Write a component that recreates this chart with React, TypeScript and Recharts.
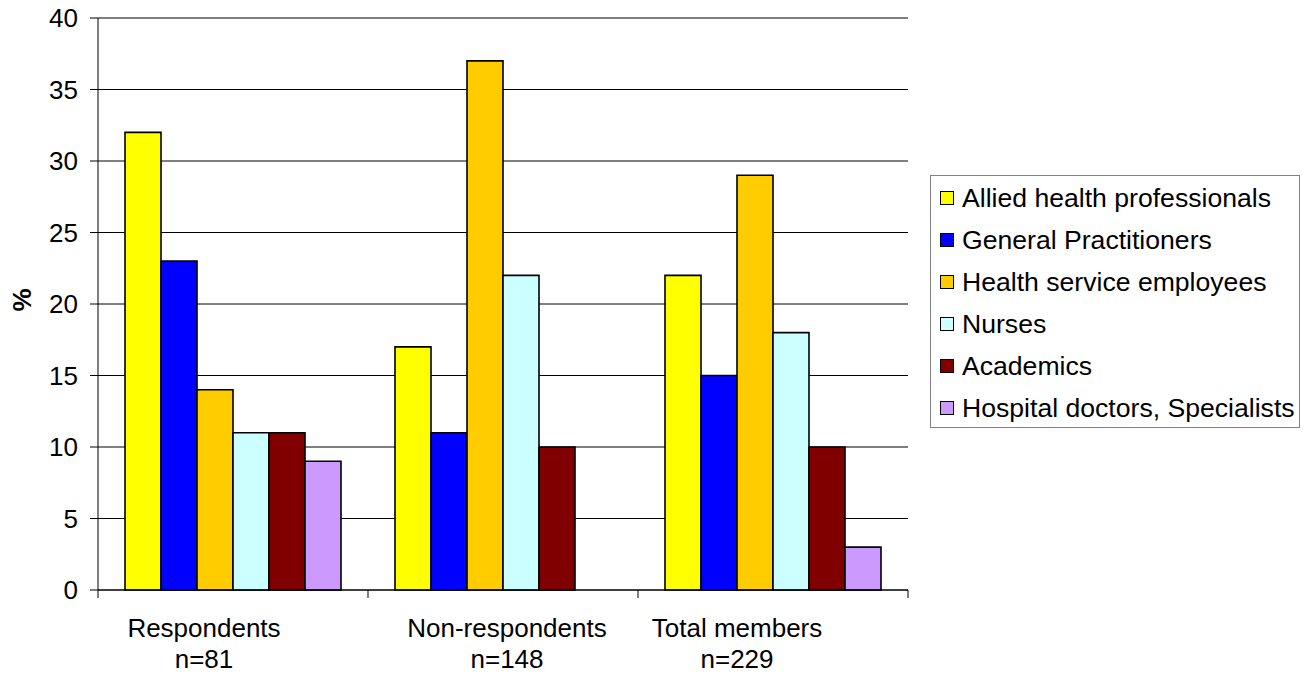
import React from 'react';
import { BarChart, Bar, XAxis, YAxis, CartesianGrid } from 'recharts';

const groups = ['Respondents', 'Non-respondents', 'Total members'];
const sampleSizes = ['n=81', 'n=148', 'n=229'];

const alliedHealth = [32, 17, 22];
const generalPractitioners = [23, 11, 15];
const healthServiceEmployees = [14, 37, 29];
const nurses = [11, 22, 18];
const academics = [11, 10, 10];
const hospitalDoctors = [9, null, 3];

const yTicks = [0, 5, 10, 15, 20, 25, 30, 35, 40];

const series = [
  { key: 'allied', name: 'Allied health professionals', values: alliedHealth, color: '#FFFF00' },
  { key: 'gp', name: 'General Practitioners', values: generalPractitioners, color: '#0000FF' },
  { key: 'hse', name: 'Health service employees', values: healthServiceEmployees, color: '#FFCC00' },
  { key: 'nurses', name: 'Nurses', values: nurses, color: '#CCFFFF' },
  { key: 'academics', name: 'Academics', values: academics, color: '#800000' },
  { key: 'hospital', name: 'Hospital doctors, Specialists', values: hospitalDoctors, color: '#CC99FF' },
];

const chartData = groups.map((group, i) => {
  const row: Record<string, string | number | null> = { group };
  series.forEach((s) => {
    row[s.key] = s.values[i];
  });
  return row;
});

const FONT = '"Liberation Sans", Arial, sans-serif';

// category label in two lines, plus the tick marks on the band edges
function GroupTick({ x, y, width, payload, index, visibleTicksCount }: any) {
  const count = visibleTicksCount || groups.length;
  const band = width ? width / count : (payload.offset || 0) * 2;
  const left = x - band / 2;
  const right = x + band / 2;
  // the original labels sit a little off the band centres
  const labelNudge = [-29, 4, -36];
  const cx = x + (labelNudge[index] || 0);
  return (
    <g>
      <line x1={left} x2={left} y1={y} y2={y + 8} stroke="#000" strokeWidth={1} />
      {index === count - 1 && <line x1={right} x2={right} y1={y} y2={y + 8} stroke="#000" strokeWidth={1} />}
      <text x={cx} y={y + 47} textAnchor="middle" fontSize={26} fill="#000">
        {payload.value}
      </text>
      <text x={cx} y={y + 78} textAnchor="middle" fontSize={26} fill="#000">
        {sampleSizes[index]}
      </text>
    </g>
  );
}

function PercentLabel({ viewBox }: any) {
  const cx = viewBox.x + 14;
  const cy = viewBox.y + viewBox.height / 2 - 4;
  return (
    <text
      x={cx}
      y={cy}
      transform={`rotate(-90, ${cx}, ${cy})`}
      textAnchor="middle"
      dominantBaseline="central"
      fontSize={26}
      fontWeight="bold"
      fill="#000"
    >
      %
    </text>
  );
}

function ChartLegend() {
  return (
    <div
      style={{
        position: 'absolute',
        left: 922,
        top: 175,
        width: 370,
        height: 253,
        boxSizing: 'border-box',
        border: '1px solid #808080',
        padding: '1px 0 0 9px',
        background: '#fff',
      }}
    >
      {series.map((s) => (
        <div key={s.key} style={{ display: 'flex', alignItems: 'center', height: 42 }}>
          <span
            style={{
              width: 12,
              height: 12,
              background: s.color,
              border: '1.5px solid #000',
              marginRight: 8,
              flex: 'none',
            }}
          />
          <span style={{ fontSize: 26.6, lineHeight: '42px', color: '#000', whiteSpace: 'nowrap' }}>{s.name}</span>
        </div>
      ))}
    </div>
  );
}

export default function App() {
  // negative top margin cancels the body margin so the "40" label has room above it
  return (
    <div
      style={{
        position: 'relative',
        width: 1293,
        height: 673,
        marginTop: -8,
        fontFamily: FONT,
        background: '#fff',
      }}
    >
      <BarChart
        width={1293}
        height={673}
        data={chartData}
        margin={{ top: 18, right: 393, bottom: 0, left: 0 }}
        barCategoryGap="10%"
        barGap={0}
      >
        <CartesianGrid vertical={false} stroke="#000" strokeWidth={1} />
        <XAxis
          dataKey="group"
          interval={0}
          height={83}
          tickSize={0}
          tickMargin={0}
          tickLine={false}
          axisLine={{ stroke: '#000', strokeWidth: 1 }}
          tick={<GroupTick />}
        />
        <YAxis
          domain={[0, 40]}
          ticks={yTicks}
          interval={0}
          width={90}
          tickSize={8}
          tickMargin={12}
          axisLine={{ stroke: '#000', strokeWidth: 1 }}
          tickLine={{ stroke: '#000' }}
          tick={{ fontSize: 26, fill: '#000' }}
          label={<PercentLabel />}
        />
        {/* grey frame on the right of the plot area */}
        <YAxis
          yAxisId="frame"
          orientation="right"
          domain={[0, 40]}
          width={0}
          tick={false}
          tickLine={false}
          axisLine={{ stroke: '#808080', strokeWidth: 1.5 }}
        />
        {series.map((s) => (
          <Bar
            key={s.key}
            dataKey={s.key}
            name={s.name}
            fill={s.color}
            stroke="#000"
            strokeWidth={1.6}
            isAnimationActive={false}
          />
        ))}
      </BarChart>
      <ChartLegend />
    </div>
  );
}
